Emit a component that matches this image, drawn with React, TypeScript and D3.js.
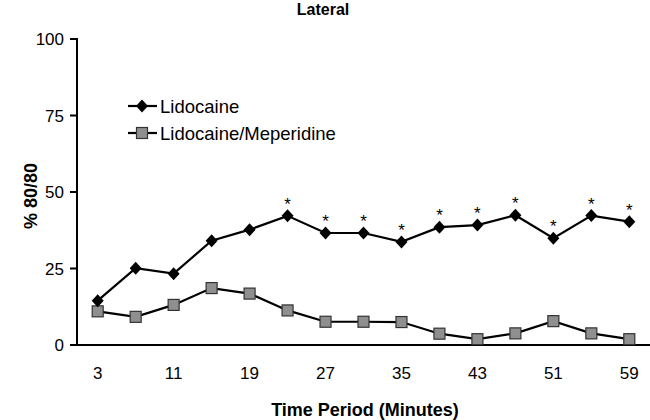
import React from "react";
import * as d3 from "d3";

const minutes = [3, 7, 11, 15, 19, 23, 27, 31, 35, 39, 43, 47, 51, 55, 59];
const lidocaine = [14.5, 25.1, 23.3, 34.1, 37.7, 42.2, 36.6, 36.6, 33.7, 38.5, 39.2, 42.4, 34.9, 42.3, 40.3];
const lidoMeperidine = [11.0, 9.2, 13.1, 18.6, 16.8, 11.3, 7.6, 7.6, 7.5, 3.7, 1.9, 3.8, 7.8, 3.8, 1.9];
const significant = [false, false, false, false, false, true, true, true, true, true, true, true, true, true, true];
const xTicks = [3, 11, 19, 27, 35, 43, 51, 59];
const yTicks = [0, 25, 50, 75, 100];
const seriesNames = ["Lidocaine", "Lidocaine/Meperidine"];

const W = 650;
const H = 420;
const FONT = "'Liberation Sans', Arial, Helvetica, sans-serif";

export default function App() {
  const x = d3.scaleLinear().domain([3, 59]).range([97.7, 629.3]);
  const y = d3.scaleLinear().domain([0, 100]).range([345, 39]);
  const axisX = 77;
  const line = d3
    .line<number>()
    .x((_, i) => x(minutes[i]))
    .y((d) => y(d));

  const diamond = (cx: number, cy: number) =>
    `M${cx},${cy - 6.5} L${cx + 6},${cy} L${cx},${cy + 6.5} L${cx - 6},${cy} Z`;

  return (
    <svg
      width={W}
      height={H}
      style={{ position: "absolute", left: 0, top: 0, background: "#fff" }}
      fontFamily={FONT}
    >
      <rect x={0} y={0} width={W} height={H} fill="#fff" />
      {/* Title */}
      <text x={323} y={15} textAnchor="middle" fontSize={16} fontWeight="bold" fill="#000">
        Lateral
      </text>

      {/* Y axis */}
      <line x1={axisX} x2={axisX} y1={y(100) - 1} y2={y(0)} stroke="#000" strokeWidth={2} />
      {yTicks.map((t) => (
        <g key={t}>
          <line x1={70} x2={axisX} y1={y(t)} y2={y(t)} stroke="#000" strokeWidth={2} />
          <text x={64} y={y(t)} dy="0.36em" textAnchor="end" fontSize={17} fill="#000">
            {t}
          </text>
        </g>
      ))}
      {/* X axis */}
      <line x1={70} x2={650} y1={y(0)} y2={y(0)} stroke="#000" strokeWidth={2} />
      {xTicks.map((t) => (
        <text key={t} x={x(t)} y={379} textAnchor="middle" fontSize={17} fill="#000">
          {t}
        </text>
      ))}

      {/* Axis titles */}
      <text x={365} y={416} textAnchor="middle" fontSize={18} fontWeight="bold" fill="#000">
        Time Period (Minutes)
      </text>
      <text
        transform={`translate(37,196) rotate(-90)`}
        textAnchor="middle"
        fontSize={18}
        fontWeight="bold"
        fill="#000"
      >
        % 80/80
      </text>

      {/* Series lines */}
      <path d={line(lidoMeperidine) || ""} fill="none" stroke="#000" strokeWidth={2.2} />
      <path d={line(lidocaine) || ""} fill="none" stroke="#000" strokeWidth={2.2} />

      {/* Markers */}
      {lidoMeperidine.map((v, i) => (
        <rect
          key={`m${i}`}
          x={x(minutes[i]) - 5.5}
          y={y(v) - 5.5}
          width={11}
          height={11}
          fill="#8f8f8f"
          stroke="#333"
          strokeWidth={1.2}
        />
      ))}
      {lidocaine.map((v, i) => (
        <path key={`l${i}`} d={diamond(x(minutes[i]), y(v))} fill="#000" />
      ))}
      {lidocaine.map((v, i) =>
        significant[i] ? (
          <text
            key={`s${i}`}
            x={x(minutes[i])}
            y={y(v) - 6}
            textAnchor="middle"
            fontSize={17}
            fill="#000"
          >
            *
          </text>
        ) : null
      )}

      {/* Legend */}
      <g>
        <line x1={128} x2={157} y1={106} y2={106} stroke="#000" strokeWidth={2.2} />
        <path d={diamond(142, 106)} fill="#000" />
        <text x={160} y={106} dy="0.36em" fontSize={18.5} fill="#000">
          {seriesNames[0]}
        </text>
        <line x1={128} x2={157} y1={133} y2={133} stroke="#000" strokeWidth={2.2} />
        <rect x={136.5} y={127.5} width={11} height={11} fill="#8f8f8f" stroke="#333" strokeWidth={1.2} />
        <text x={160} y={133} dy="0.36em" fontSize={18.5} fill="#000">
          {seriesNames[1]}
        </text>
      </g>
    </svg>
  );
}
